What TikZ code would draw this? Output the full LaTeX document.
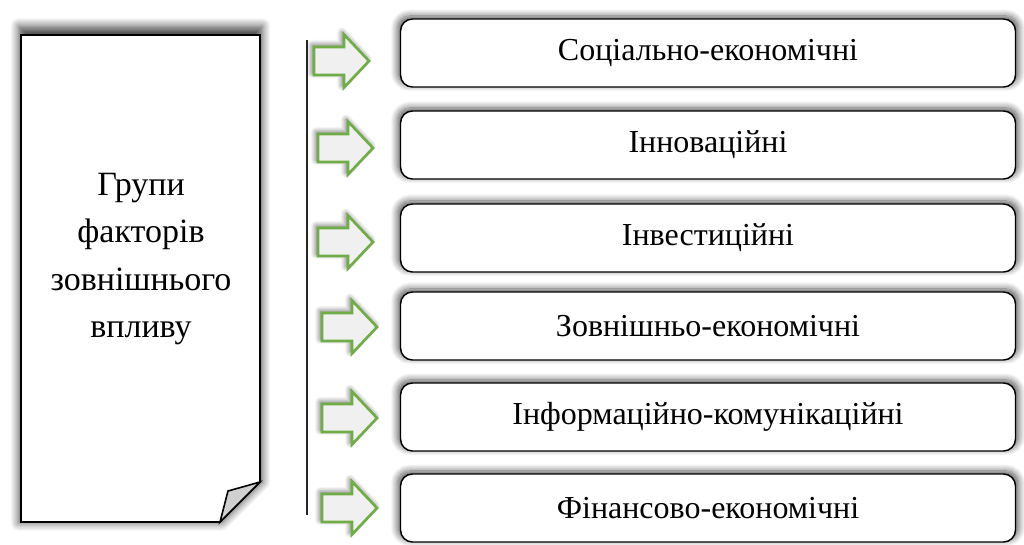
\documentclass[tikz,border=0pt]{standalone}
\usepackage{fontspec}
\setmainfont{Liberation Serif}
\usetikzlibrary{shadows.blur}
\definecolor{arrgreen}{HTML}{70AD47}
\definecolor{arrfill}{HTML}{F0F0F0}
\definecolor{flapgray}{HTML}{D0D0D0}
\begin{document}
\begin{tikzpicture}[x=0.75pt,y=-0.75pt,
  softshadow/.style={blur shadow={shadow xshift=0pt,shadow yshift=2pt,shadow blur radius=5pt,shadow blur steps=8,shadow opacity=65,shadow scale=1.01}},
  pagebox/.style={draw=black,line width=1.2pt,fill=white,line join=miter,
    blur shadow={shadow xshift=0pt,shadow yshift=3pt,shadow blur radius=6pt,shadow blur steps=8,shadow opacity=70,shadow scale=1.02}},
  flap/.style={draw=black,line width=1.2pt,fill=flapgray,line join=miter},
  fbox/.style={draw=black,line width=1.1pt,fill=white,rounded corners=9pt,
    minimum width=461.25pt,minimum height=51pt,font=\fontsize{24}{28}\selectfont,softshadow},
  arrowstyle/.style={draw=arrgreen,line width=2pt,fill=arrfill,line join=miter,
    blur shadow={shadow xshift=-1.5pt,shadow yshift=1.5pt,shadow blur radius=4pt,shadow blur steps=8,shadow opacity=60}},
  rarrow/.pic={\draw[arrowstyle] (0,-14) -- (30,-14) -- (30,-26.5) -- (55,0) -- (30,26.5) -- (30,14) -- (0,14) -- cycle;},
  grptext/.style={align=center,font=\fontsize{25.5}{35.3}\selectfont}
]
\useasboundingbox (0,0) rectangle (1024,544);
% left page
\draw[pagebox] (21,35) -- (260,35) -- (260,482) -- (220,522) -- (21,522) -- cycle;
\draw[flap] (260,482) -- (228,491) -- (220,522) -- cycle;
\node[grptext] (grp) at (141,259) {Групи\\факторів\\зовнішнього\\впливу};
% vertical line
\coordinate (vtop) at (307,40);
\coordinate (vbot) at (307,515);
\draw[line width=0.8pt,black!85] (vtop) -- (vbot);
% arrows
\pic (a1) at (314,61) {rarrow};
\pic (a2) at (318,148) {rarrow};
\pic (a3) at (318,242) {rarrow};
\pic (a4) at (322,327) {rarrow};
\pic (a5) at (322,418) {rarrow};
\pic (a6) at (322,508) {rarrow};
% boxes
\node[fbox] (b1) at (708,53) {Соціально-економічні};
\node[fbox] (b2) at (708,145) {Інноваційні};
\node[fbox] (b3) at (708,238) {Інвестиційні};
\node[fbox] (b4) at (708,326) {Зовнішньо-економічні};
\node[fbox] (b5) at (708,417) {Інформаційно-комунікаційні};
\node[fbox] (b6) at (708,508) {Фінансово-економічні};
\end{tikzpicture}
\end{document}
